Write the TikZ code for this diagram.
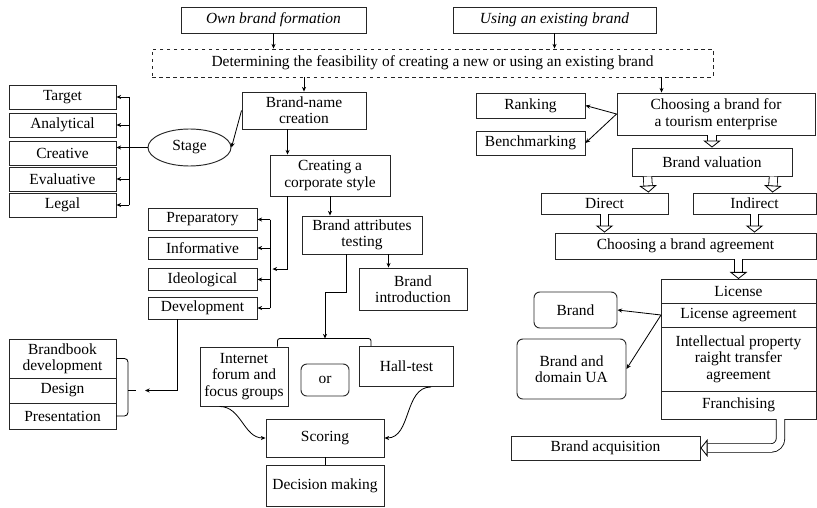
\documentclass[tikz,border=0pt]{standalone}
\usepackage{fontspec}
\setmainfont{Liberation Serif}
\usetikzlibrary{arrows.meta, positioning, calc, shapes.geometric}

\newcommand{\diagfont}{\fontsize{13.2}{14}\selectfont}

\begin{document}
\begin{tikzpicture}[
    x=0.03cm, y=-0.03cm, line width=0.7pt,
    box/.style={rectangle, draw=black!85, line width=0.8pt, align=center,
                inner sep=1pt, font=\diagfont},
    rbox/.style={box, rounded corners=5pt},
    stack/.style={box, outer sep=0pt},
    arr/.style={-{Stealth[length=4pt, width=3.5pt]}},
    hollow/.style={double, double distance=6.5pt,
                   -{Triangle[open, length=6pt, width=15pt]}}
]
\useasboundingbox (0,0) rectangle (817,507);

% top row
\node[box, font=\diagfont\itshape, minimum width=5.55cm, minimum height=0.78cm] (own) at (273.5,20) {Own brand formation};
\node[box, font=\diagfont\itshape, minimum width=6.09cm, minimum height=0.78cm] (using) at (554.5,20) {Using an existing brand};
\node[box, dashed, minimum width=16.83cm, minimum height=0.84cm] (feas) at (432.5,63) {Determining the feasibility of creating a new or using an existing brand};

% own brand formation
\node[box, minimum width=3.21cm, minimum height=0.72cm] (target) at (62.5,97) {Target};
\node[box, minimum width=3.21cm, minimum height=0.72cm] (analyt) at (62.5,125) {Analytical};
\node[box, minimum width=3.21cm, minimum height=0.72cm] (creat) at (62.5,153) {Creative};
\node[box, minimum width=3.21cm, minimum height=0.72cm] (evalu) at (62.5,179) {Evaluative};
\node[box, minimum width=3.21cm, minimum height=0.72cm] (legal) at (62.5,205) {Legal};
\node[box, ellipse, minimum width=2.49cm, minimum height=1.11cm] (stage) at (189.5,147.5) {Stage};
\node[box, minimum width=3.72cm, minimum height=1.11cm] (bname) at (304,110.5) {Brand-name\\creation};
\node[box, minimum width=3.6cm, minimum height=1.23cm] (corp) at (330,175.5) {Creating a\\corporate style};
\node[box, minimum width=3.27cm, minimum height=0.66cm] (prep) at (202.5,219.5) {Preparatory};
\node[box, minimum width=3.27cm, minimum height=0.66cm] (inform) at (202.5,248) {Informative};
\node[box, minimum width=3.27cm, minimum height=0.66cm] (ideol) at (202.5,279.5) {Ideological};
\node[box, minimum width=3.27cm, minimum height=0.66cm] (devel) at (202.5,308) {Development};
\node[box, minimum width=3.6cm, minimum height=1.14cm] (attr) at (362,235) {Brand attributes\\testing};
\node[box, minimum width=3.24cm, minimum height=1.26cm] (intro) at (413,289) {Brand\\introduction};
\node[box, minimum width=2.64cm, minimum height=1.77cm] (inet) at (244,376.5) {Internet\\forum and\\focus groups};
\node[rbox, minimum width=1.44cm, minimum height=0.96cm] (or) at (325,380) {or};
\node[box, minimum width=2.82cm, minimum height=1.2cm] (hall) at (406.5,366.5) {Hall-test};
\node[box, minimum width=3.54cm, minimum height=1.14cm] (score) at (325,438) {Scoring};
\node[box, minimum width=3.54cm, minimum height=1.23cm] (decide) at (325,485.5) {Decision making};
\node[stack, minimum width=3.21cm, minimum height=1.17cm] (bbook) at (62.5,358.5) {Brandbook\\development};
\node[stack, below=0pt of bbook, minimum width=3.21cm, minimum height=0.75cm] (design) {Design};
\node[stack, below=0pt of design, minimum width=3.21cm, minimum height=0.78cm] (present) {Presentation};

% using an existing brand
\node[box, minimum width=5.94cm, minimum height=1.26cm] (choose) at (716,114) {Choosing a brand for\\a tourism enterprise};
\node[box, minimum width=3.27cm, minimum height=0.75cm] (rank) at (530.5,105.5) {Ranking};
\node[box, minimum width=3.27cm, minimum height=0.72cm] (bench) at (530.5,143) {Benchmarking};
\node[box, minimum width=4.8cm, minimum height=0.84cm] (value) at (712,162) {Brand valuation};
\node[box, minimum width=3.81cm, minimum height=0.63cm] (direct) at (604.5,203.5) {Direct};
\node[box, minimum width=3.69cm, minimum height=0.63cm] (indirect) at (754.5,203.5) {Indirect};
\node[box, minimum width=7.83cm, minimum height=0.78cm] (agree) at (685.5,246) {Choosing a brand agreement};
\node[stack, minimum width=4.65cm, minimum height=0.72cm] (lic) at (738.5,291) {License};
\node[stack, below=0pt of lic, minimum width=4.65cm, minimum height=0.72cm] (licagr) {License agreement};
\node[stack, below=0pt of licagr, minimum width=4.65cm, minimum height=1.92cm] (iprt) {Intellectual property\\raight transfer\\agreement};
\node[stack, below=0pt of iprt, minimum width=4.65cm, minimum height=0.84cm] (franch) {Franchising};
\node[rbox, minimum width=2.49cm, minimum height=1.08cm] (brand) at (575.5,310) {Brand};
\node[rbox, minimum width=3.27cm, minimum height=1.8cm] (bdom) at (571.5,369) {Brand and\\domain UA};
\node[box, minimum width=5.67cm, minimum height=0.72cm] (acq) at (605.5,448) {Brand acquisition};

% top arrows
\draw[arr] (own.south) -- (own.south |- feas.north);
\draw[arr] (using.south) -- (using.south |- feas.north);
\draw[arr] (bname.north |- feas.south) -- (bname.north);
\coordinate (fc) at ($(choose.north west)+(45,0)$);
\draw[arr] (fc |- feas.south) -- (fc);

% left branch
\draw[arr] (bname.west) -- (stage.east);
\draw[arr] (stage.west) -- (stage.west -| creat.east);
\draw ($(target.east)+(13,0)$) -- ($(legal.east)+(13,0)$);
\draw[arr] ($(target.east)+(13,0)$) -- (target.east);
\draw[arr] ($(analyt.east)+(13,0)$) -- (analyt.east);
\draw[arr] ($(evalu.east)+(13,0)$) -- (evalu.east);
\draw[arr] ($(legal.east)+(13,0)$) -- (legal.east);
\coordinate (bc) at ($(corp.north west)+(18,0)$);
\draw[arr] (bc |- bname.south) -- (bc);
\draw[arr] (bc |- corp.south) |- ($(ideol.north east)+(15,1)$);
\draw ($(prep.east)+(13,0)$) -- ($(devel.east)+(13,0)$);
\draw[arr] ($(prep.east)+(13,0)$) -- (prep.east);
\draw[arr] ($(inform.east)+(13,0)$) -- (inform.east);
\draw[arr] ($(ideol.east)+(13,0)$) -- (ideol.east);
\draw[arr] ($(devel.east)+(13,0)$) -- (devel.east);
\draw[arr] (corp.south) -- (corp.south |- attr.north);
\coordinate (ai) at ($(intro.north west)+(30,0)$);
\draw[arr] (ai |- attr.south) -- (ai);
\coordinate (brk) at ($(or.north)+(0,-25)$);
\draw[rounded corners=2pt] ($(inet.north east)+(-11,0)$) |- (brk) -| ($(hall.north west)+(12,0)$);
\draw[arr] ($(attr.south west)+(45,0)$) -- ++(0,38) -| (brk);
\draw[arr] ($(inet.south west)+(20,0)$) to[out=0, in=180] (score.west);
\draw[arr] ($(hall.south east)+(-23,0)$) to[out=180, in=0] (score.east);
\draw (score.south) -- (decide.north);
\draw[arr] ($(devel.south west)+(30,0)$) |- ($(design.east)+(29,0)$);
\draw[rounded corners=3pt] (bbook.east) -- ++(12,0) |- (present.east);
\draw ($(design.east)+(12,0)$) -- ++(8,0);

% right branch
\draw[arr] (choose.west) -- (rank.east);
\draw[arr] (choose.west) -- (bench.east);
\draw[hollow] (value.north |- choose.south) -- (value.north);
\draw[hollow] ($(value.south west)+(16,0)$) -- ($(direct.north east)+(-20,0)$);
\draw[hollow] ($(value.south east)+(-19,0)$) -- ($(indirect.north)+(18,0)$);
\draw[hollow] (direct.south) -- (direct.south |- agree.north);
\draw[hollow] (indirect.south) -- (indirect.south |- agree.north);
\draw[hollow] (lic.north |- agree.south) -- (lic.north);
\draw[arr] (licagr.west) -- (brand.east);
\draw[arr] (licagr.west) -- (bdom.east);
\draw[hollow, rounded corners=8pt] ($(franch.south)+(42,0)$) |- (acq.east);
\end{tikzpicture}
\end{document}
